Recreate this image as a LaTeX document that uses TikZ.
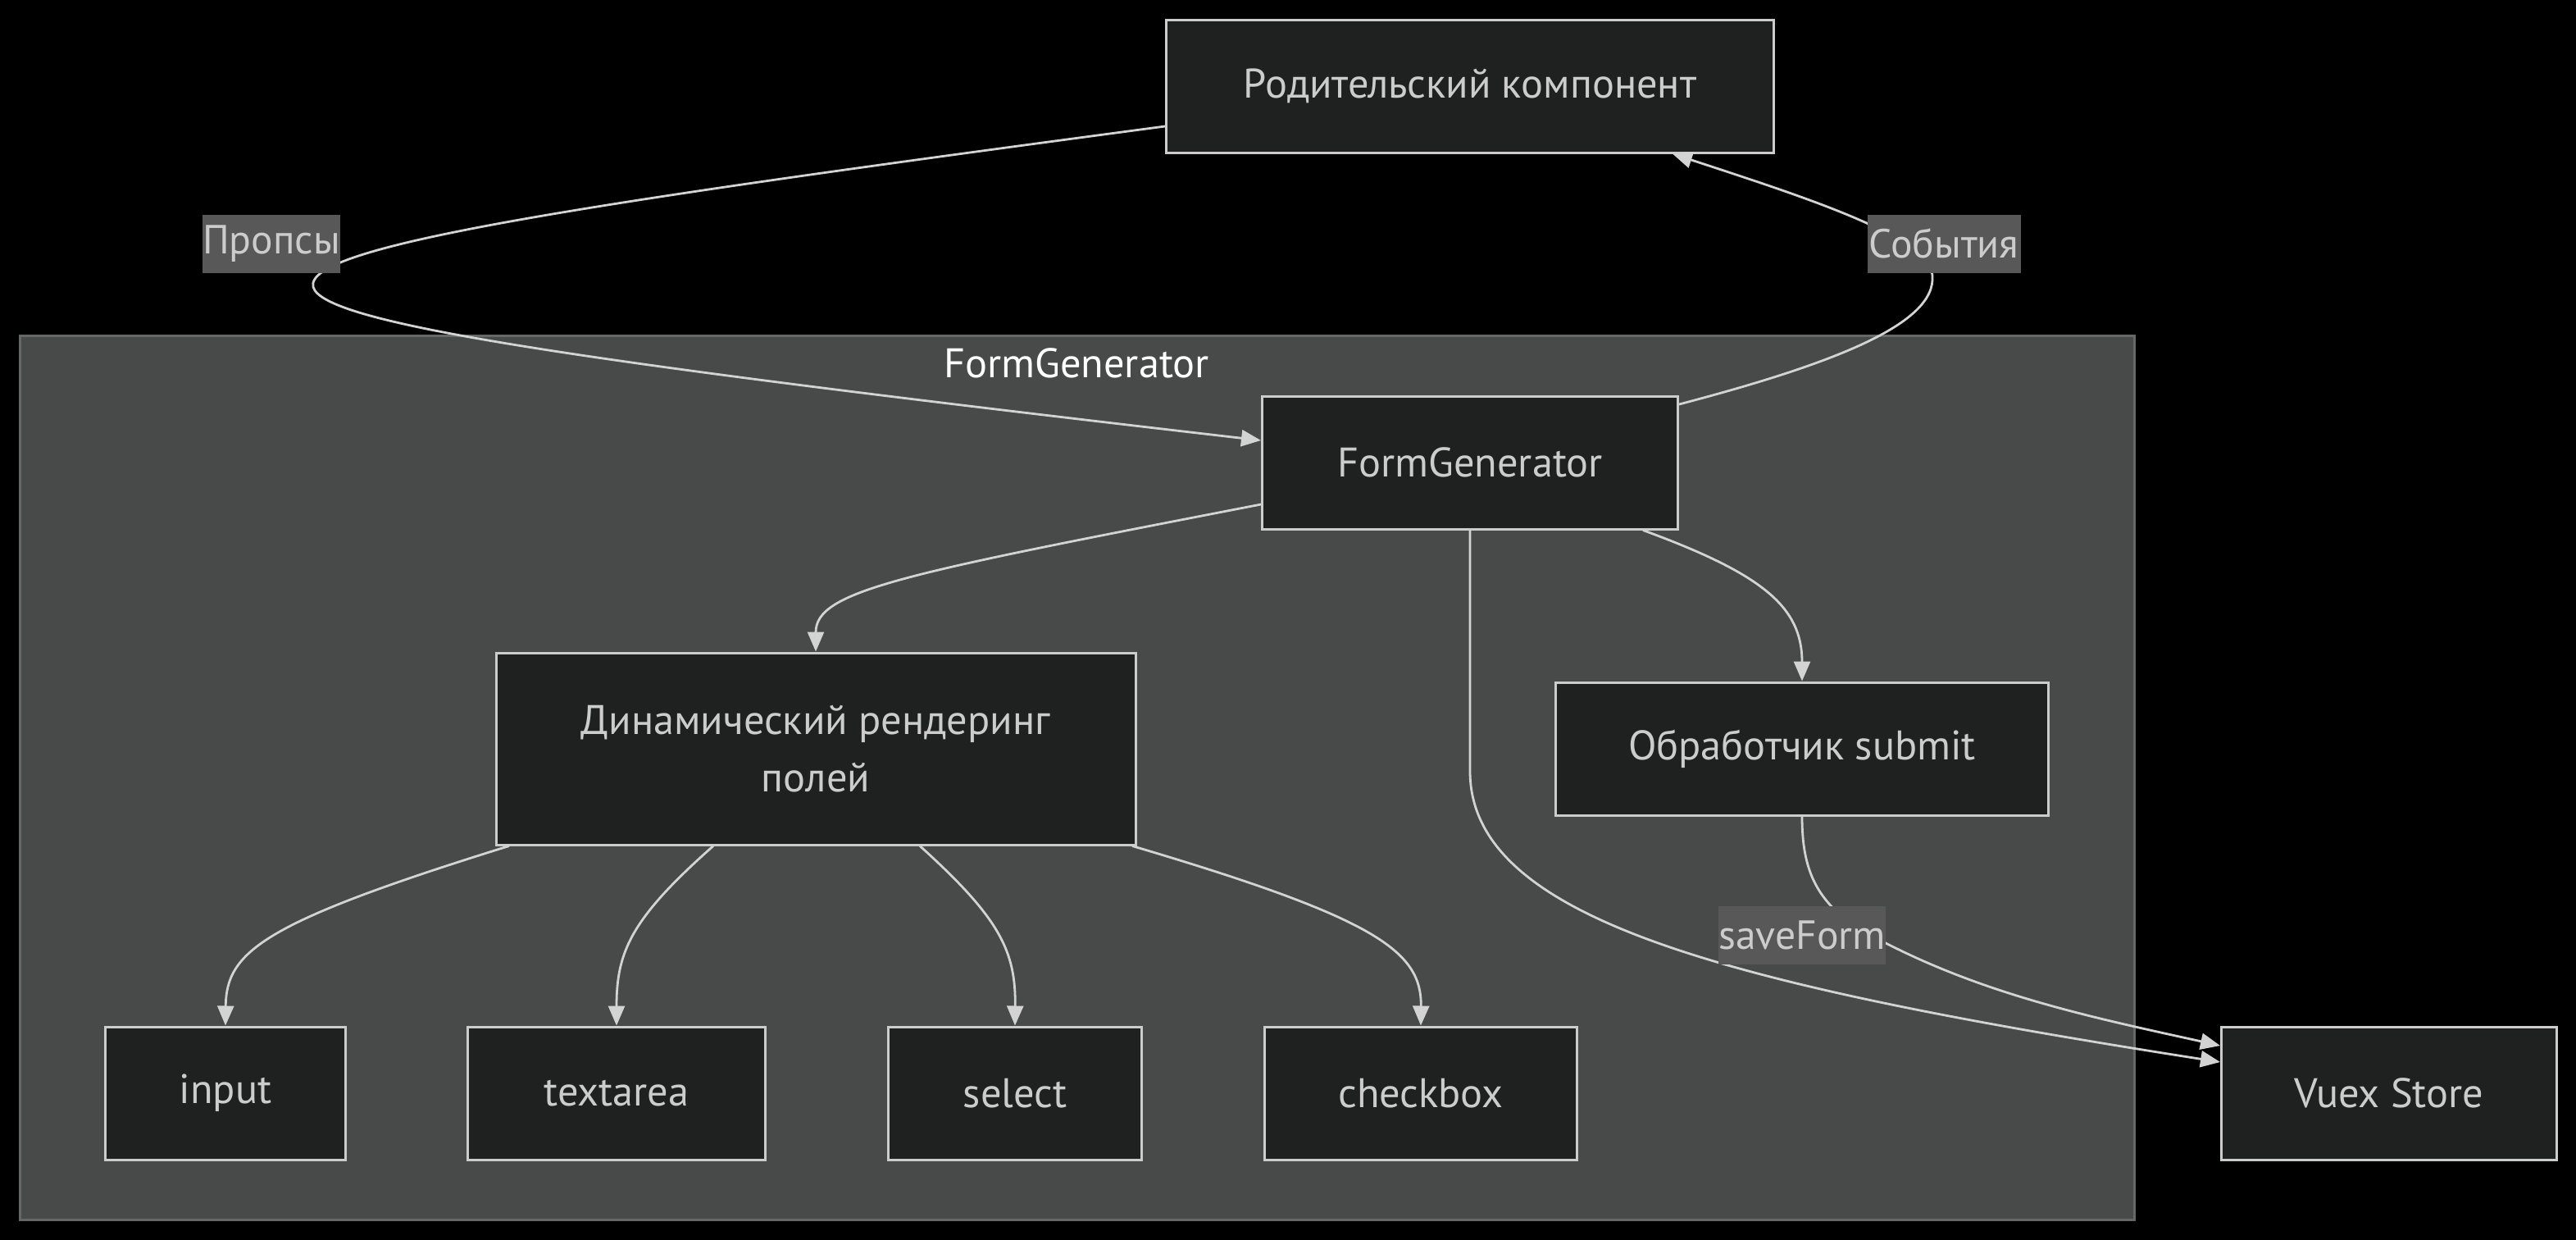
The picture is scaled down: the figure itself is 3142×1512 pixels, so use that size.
\documentclass[tikz,border=0pt]{standalone}
\usepackage{fontspec}
\setmainfont{PT Sans}
\usetikzlibrary{calc,arrows.meta}
\definecolor{nodefill}{HTML}{1F2020}
\definecolor{nodeline}{HTML}{CCCCCC}
\definecolor{txt}{HTML}{CCCCCC}
\definecolor{clfill}{HTML}{484A49}
\definecolor{clline}{HTML}{666867}
\definecolor{lblfill}{HTML}{585858}
\definecolor{edge}{HTML}{D3D3D3}
\tikzset{
  box/.style={draw=nodeline, line width=0.75pt, fill=nodefill, text=txt, font=\fontsize{12.6pt}{17.5pt}\selectfont, inner sep=0pt, align=center, minimum height=40.5pt},
  elabel/.style={fill=lblfill, text=txt, font=\fontsize{12.4pt}{14pt}\selectfont, inner sep=0pt, minimum height=17.75pt},
  conn/.style={draw=edge, line width=0.7pt, -{Triangle[length=6pt,width=5pt]}},
}
\begin{document}
\begin{tikzpicture}[x=0.25pt,y=-0.25pt]
\fill[black] (0,0) rectangle (3142,1512);
\useasboundingbox (0,0) rectangle (3142,1512);
% cluster
\draw[fill=clfill, draw=clline, line width=0.75pt] (24,409) rectangle (2603,1487);
\node[text=white, font=\fontsize{12.6pt}{14pt}\selectfont] (cltitle) at (1313,443) {FormGenerator};
% nodes
\node[box, minimum width=185.25pt] (par) at (1793,105) {Родительский компонент};
\node[box, minimum width=126.75pt] (fg) at (1793,564) {FormGenerator};
\node[box, minimum width=195pt, minimum height=58.5pt] (dyn) at (995,913) {Динамический рендеринг\\полей};
\node[box, minimum width=150.25pt] (sub) at (2198,913) {Обработчик submit};
\node[box, minimum width=73.25pt] (inp) at (275,1333) {input};
\node[box, minimum width=90.75pt] (ta) at (752,1333) {textarea};
\node[box, minimum width=77.25pt] (sel) at (1238,1333) {select};
\node[box, minimum width=95.25pt] (cb) at (1733,1333) {checkbox};
\node[box, minimum width=102.25pt] (vx) at (2914,1333) {Vuex Store};
% edges
\draw[conn] ($(par.west)+(0,49)$) .. controls (700,250) and (370,300) .. (382,350)
   .. controls (395,395) and (700,440) .. ($(fg.west)+(0,-27)$);
\draw[conn] ($(fg.east)+(0,-71)$) .. controls (2250,440) and (2370,390) .. (2356,330)
   .. controls (2340,285) and (2200,240) .. ($(par.south)+(247,0)$);
\draw[conn] ($(fg.west)+(0,51)$) .. controls (1100,700) and (995,720) .. (dyn.north);
\draw[conn] ($(fg.south)+(211,0)$) .. controls (2150,700) and (2198,740) .. (sub.north);
\draw[conn] (fg.south) -- (1793,940) .. controls (1793,1120) and (2100,1200) .. ($(vx.west)+(0,-38)$);
\draw[conn] (sub.south) .. controls (2198,1060) and (2215,1095) .. (2260,1128)
   .. controls (2400,1210) and (2550,1240) .. ($(vx.west)+(0,-58)$);
\draw[conn] ($(dyn.south)+(-374,0)$) .. controls (320,1125) and (276,1160) .. (inp.north);
\draw[conn] ($(dyn.south)+(-125,0)$) .. controls (770,1120) and (752,1160) .. (ta.north);
\draw[conn] ($(dyn.south)+(127,0)$) .. controls (1220,1120) and (1239,1160) .. (sel.north);
\draw[conn] ($(dyn.south)+(386,0)$) .. controls (1680,1120) and (1734,1160) .. (cb.north);
% edge labels
\node[elabel, minimum width=41.25pt] (lprops) at (331,297) {Пропсы};
\node[elabel, minimum width=46.75pt] (lev) at (2371,297) {События};
\node[elabel, minimum width=51pt] (lsave) at (2198,1140) {saveForm};
\end{tikzpicture}
\end{document}
